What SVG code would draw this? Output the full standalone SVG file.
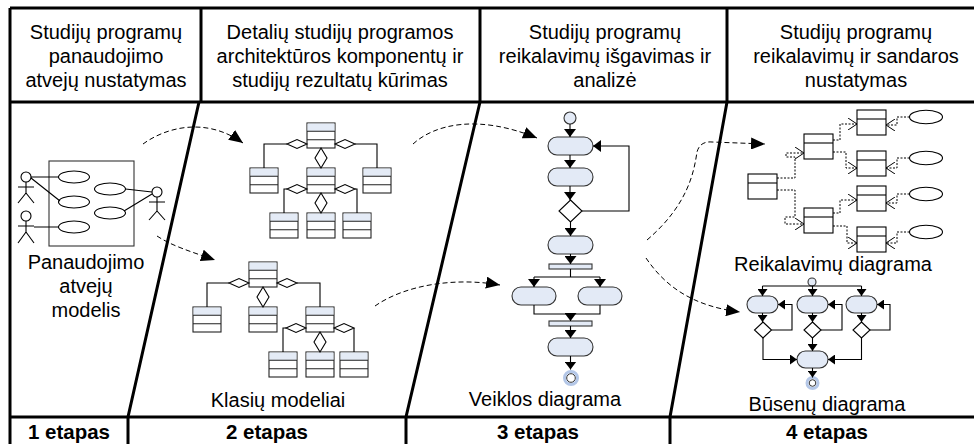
<svg xmlns="http://www.w3.org/2000/svg" xmlns:xlink="http://www.w3.org/1999/xlink" width="974" height="444" viewBox="0 0 974 444">
<style>
.frame{stroke:#000;stroke-width:3;fill:none}
.t{font-family:"Liberation Sans",Arial,sans-serif;font-size:20px;text-anchor:middle;fill:#000}
.b{font-weight:bold;font-size:20.5px}
.ln{stroke:#000;stroke-width:1.1;fill:none}
.dl{stroke:#000;stroke-width:1;fill:none;stroke-dasharray:5 3}
.dr{stroke:#000;stroke-width:1;fill:none;stroke-dasharray:2 1.5}
.act{fill:#e3eaf6;stroke:#333;stroke-width:1.1}
.dia{fill:#fff;stroke:#000;stroke-width:1.1}
.wb{fill:#fff;stroke:#000;stroke-width:1.1}
.ring{fill:#fff;stroke:#b4c7e7;stroke-width:3}
</style>
<defs>
<marker id="ah" viewBox="0 0 8 12" refX="8" refY="6" markerWidth="8" markerHeight="12" markerUnits="userSpaceOnUse" orient="auto"><path d="M0,0L8,6L0,12z" fill="#000"/></marker>
<marker id="ahs" viewBox="0 0 7 10" refX="7" refY="5" markerWidth="7" markerHeight="10" markerUnits="userSpaceOnUse" orient="auto"><path d="M0,0L7,5L0,10z" fill="#000"/></marker>
<marker id="big" viewBox="0 0 14 12" refX="14" refY="6" markerWidth="14" markerHeight="12" markerUnits="userSpaceOnUse" orient="auto"><path d="M0,0L14,6L0,12z" fill="#000"/></marker>
<marker id="open" viewBox="0 0 9 12" refX="9" refY="6" markerWidth="9" markerHeight="12" markerUnits="userSpaceOnUse" orient="auto"><path d="M0,0L9,6L0,12" fill="none" stroke="#000" stroke-width="1"/></marker>
<g id="cls"><rect x="0" y="0" width="28" height="25" fill="#fff" stroke="#222" stroke-width="1.1"/><rect x="0.5" y="0.5" width="27" height="7.8" fill="#e4ebf6"/><path d="M0,8.3H28M0,16.7H28" stroke="#222" stroke-width="1.1"/></g>
<g id="req"><rect x="0" y="0" width="29" height="25" fill="#fff" stroke="#000" stroke-width="1.1"/><path d="M0,9H29" stroke="#000" stroke-width="1.1"/></g>
<path id="hd" d="M0,0L10,-4.5L20,0L10,4.5z"/>
<path id="vd" d="M0,0L6,10L0,20L-6,10z"/>
</defs>

<g id="frame">
<path class="frame" d="M10,8H974M10,102H974M10,417H974M10,8V444M201,8V102M480,8V102M727,8V102"/>
<path class="frame" d="M199,102L128,417V444M480,102L406,417V444M727,102L670,417V444"/>
</g>

<g id="headers">
<text class="t" x="106" y="39">Studijų programų</text>
<text class="t" x="106" y="63">panaudojimo</text>
<text class="t" x="106" y="87">atvejų nustatymas</text>
<text class="t" x="340" y="39">Detalių studijų programos</text>
<text class="t" x="340" y="63">architektūros komponentų ir</text>
<text class="t" x="340" y="87">studijų rezultatų kūrimas</text>
<text class="t" x="605" y="39">Studijų programų</text>
<text class="t" x="605" y="63">reikalavimų išgavimas ir</text>
<text class="t" x="605" y="87">analizė</text>
<text class="t" x="856" y="39">Studijų programų</text>
<text class="t" x="856" y="63">reikalavimų ir sandaros</text>
<text class="t" x="856" y="87">nustatymas</text>
</g>

<g id="footers">
<text class="t b" x="69" y="439">1 etapas</text>
<text class="t b" x="267" y="439">2 etapas</text>
<text class="t b" x="538" y="439">3 etapas</text>
<text class="t b" x="827" y="439">4 etapas</text>
</g>

<g id="usecase">
<rect x="49" y="161" width="85" height="85" fill="#fff" stroke="#333" stroke-width="1.1"/>
<ellipse class="wb" cx="74" cy="177" rx="15.5" ry="6"/>
<ellipse class="wb" cx="74" cy="202" rx="15.5" ry="6"/>
<ellipse class="wb" cx="74" cy="227" rx="15.5" ry="6"/>
<ellipse class="wb" cx="110" cy="189" rx="15.5" ry="6"/>
<ellipse class="wb" cx="110" cy="213" rx="15.5" ry="6"/>
<circle class="wb" cx="26" cy="177" r="5"/>
<path class="ln" d="M26,182V193M18,187H34M26,193L18,203M26,193L34,203"/>
<circle class="wb" cx="26" cy="216" r="5"/>
<path class="ln" d="M26,221V232M18,226H34M26,232L18,243M26,232L34,243"/>
<circle class="wb" cx="157" cy="192" r="5"/>
<path class="ln" d="M157,197V211M149,202H165M157,211L149,220M157,211L165,220"/>
<path class="ln" d="M31,177L58.5,177M31,178L60,201M34,227L58.5,227M152,192L125.5,189M152,194L124,211"/>
<text class="t" x="86" y="269">Panaudojimo</text>
<text class="t" x="86" y="293">atvejų</text>
<text class="t" x="86" y="317">modelis</text>
</g>

<g id="classA">
<use href="#cls" x="307" y="123"/>
<use href="#cls" x="250" y="168"/>
<use href="#cls" x="307" y="168"/>
<use href="#cls" x="363" y="168"/>
<use href="#cls" x="270" y="213"/>
<use href="#cls" x="307" y="213"/>
<use href="#cls" x="343" y="213"/>
<path class="ln" d="M287,144H264V168M355,144H377V168M287,189H284V213M355,189H357V213"/>
<use href="#hd" x="287" y="144" class="dia"/>
<use href="#hd" x="335" y="144" class="dia"/>
<use href="#vd" x="321" y="148" class="dia"/>
<use href="#hd" x="287" y="189" class="dia"/>
<use href="#hd" x="335" y="189" class="dia"/>
<use href="#vd" x="321" y="193" class="dia"/>
</g>

<g id="classB">
<use href="#cls" x="249" y="262"/>
<use href="#cls" x="193" y="307"/>
<use href="#cls" x="249" y="307"/>
<use href="#cls" x="306" y="307"/>
<use href="#cls" x="269" y="352"/>
<use href="#cls" x="306" y="352"/>
<use href="#cls" x="340" y="352"/>
<path class="ln" d="M229,283H207V307M297,283H320V307M286,328H283V352M354,328V352"/>
<use href="#hd" x="229" y="283" class="dia"/>
<use href="#hd" x="277" y="283" class="dia"/>
<use href="#vd" x="263" y="287" class="dia"/>
<use href="#hd" x="286" y="328" class="dia"/>
<use href="#hd" x="334" y="328" class="dia"/>
<use href="#vd" x="320" y="332" class="dia"/>
<text class="t" x="278" y="407">Klasių modeliai</text>
</g>

<g id="activity">
<circle class="act" cx="570" cy="118" r="6"/>
<rect class="act" x="548" y="137" width="45" height="18" rx="9"/>
<rect class="act" x="548" y="168" width="45" height="18" rx="9"/>
<path class="dia" d="M570.5,200L582,211L570.5,222L559,211z"/>
<rect class="act" x="548" y="236" width="45" height="18" rx="9"/>
<rect class="act" x="549" y="264" width="43" height="5"/>
<rect class="act" x="512" y="287" width="44" height="18" rx="9"/>
<rect class="act" x="578" y="287" width="44" height="18" rx="9"/>
<rect class="act" x="549" y="321" width="43" height="5"/>
<rect class="act" x="548" y="338" width="45" height="18" rx="9"/>
<circle class="ring" cx="571" cy="378" r="6.5"/>
<circle cx="571" cy="378" r="4.3" fill="#fff" stroke="#333" stroke-width="1"/>
<text class="t" x="545" y="406">Veiklos diagrama</text>
</g>

<g id="requirements">
<use href="#req" x="748" y="174"/>
<use href="#req" x="804" y="134"/>
<use href="#req" x="804" y="208"/>
<use href="#req" x="857" y="110"/>
<use href="#req" x="857" y="151"/>
<use href="#req" x="857" y="186"/>
<use href="#req" x="857" y="227"/>
<ellipse class="wb" cx="926" cy="117" rx="16.5" ry="6.7"/>
<ellipse class="wb" cx="926" cy="158" rx="16.5" ry="6.7"/>
<ellipse class="wb" cx="926" cy="194" rx="16.5" ry="6.7"/>
<ellipse class="wb" cx="926" cy="232" rx="16.5" ry="6.7"/>
<text class="t" x="833" y="271">Reikalavimų diagrama</text>
</g>

<g id="states">
<circle class="act" cx="812" cy="282" r="4"/>
<rect class="act" x="747" y="296" width="31" height="17" rx="8.5"/>
<rect class="act" x="797" y="296" width="31" height="17" rx="8.5"/>
<rect class="act" x="846" y="296" width="31" height="17" rx="8.5"/>
<path class="dia" d="M763,322L771.5,330L763,338L754.5,330z"/>
<path class="dia" d="M812.5,322L821,330L812.5,338L804,330z"/>
<path class="dia" d="M861.5,322L870,330L861.5,338L853,330z"/>
<rect class="act" x="797" y="351" width="31" height="17" rx="8.5"/>
<circle class="ring" cx="812.5" cy="383" r="5.5"/>
<circle cx="812.5" cy="383" r="3.3" fill="#fff" stroke="#333" stroke-width="1"/>
<text class="t" x="827" y="411">Būsenų diagrama</text>
</g>

<g id="connectors">
<path class="dl" d="M143,144C165,128 205,116 243,143" marker-end="url(#big)"/>
<path class="dl" d="M157,236C172,246 192,252 215,260" marker-end="url(#big)"/>
<path class="dl" d="M413,144C435,124 478,114 537,138" marker-end="url(#big)"/>
<path class="dl" d="M375,306C405,285 455,277 500,285" marker-end="url(#big)"/>
<path class="dl" d="M647,240C688,205 694,172 697,152Q700,141 712,142L765,144" marker-end="url(#big)"/>
<path class="dl" d="M646,258C665,286 692,306 740,312" marker-end="url(#big)"/>

<path class="ln" d="M570,124V137" marker-end="url(#ah)"/>
<path class="ln" d="M570,155V168" marker-end="url(#ah)"/>
<path class="ln" d="M570,186V200" marker-end="url(#ah)"/>
<path class="ln" d="M582,211H629V146H593" marker-end="url(#ah)"/>
<path class="ln" d="M570.5,222V236" marker-end="url(#ah)"/>
<path class="ln" d="M570.5,254V264" marker-end="url(#ah)"/>
<path class="ln" d="M570.5,269V277M534,277H600"/>
<path class="ln" d="M534,277V287" marker-end="url(#ah)"/>
<path class="ln" d="M600,277V287" marker-end="url(#ah)"/>
<path class="ln" d="M534,305V314H600V305"/>
<path class="ln" d="M570.5,314V321" marker-end="url(#ah)"/>
<path class="ln" d="M570.5,326V338" marker-end="url(#ah)"/>
<path class="ln" d="M570.5,356V369.5" marker-end="url(#ah)"/>

<path class="dr" d="M777,178H795V157H786V153H804" marker-end="url(#open)"/>
<path class="dr" d="M777,190H795V217H785V224H804" marker-end="url(#open)"/>
<path class="dr" d="M833,140H840V124H857" marker-end="url(#open)"/>
<path class="dr" d="M833,152H846V168H857" marker-end="url(#open)"/>
<path class="dr" d="M833,213H840V200H857" marker-end="url(#open)"/>
<path class="dr" d="M833,226H847V243H857" marker-end="url(#open)"/>
<path class="dr" d="M909.5,117H897V125H886" marker-end="url(#open)"/>
<path class="dr" d="M909.5,158H897V168H886" marker-end="url(#open)"/>
<path class="dr" d="M909.5,194H897V203H886" marker-end="url(#open)"/>
<path class="dr" d="M909.5,232H897V243H886" marker-end="url(#open)"/>

<path class="ln" d="M762.5,286H861.5"/>
<path class="ln" d="M762.5,286V296" marker-end="url(#ahs)"/>
<path class="ln" d="M812.5,286V296" marker-end="url(#ahs)"/>
<path class="ln" d="M861.5,286V296" marker-end="url(#ahs)"/>
<path class="ln" d="M762.5,313V322" marker-end="url(#ahs)"/>
<path class="ln" d="M812.5,313V322" marker-end="url(#ahs)"/>
<path class="ln" d="M861.5,313V322" marker-end="url(#ahs)"/>
<path class="ln" d="M771.5,330H792V304.5H778" marker-end="url(#ahs)"/>
<path class="ln" d="M821,330H842V304.5H828" marker-end="url(#ahs)"/>
<path class="ln" d="M870,330H890V304.5H877" marker-end="url(#ahs)"/>
<path class="ln" d="M812.5,338V351" marker-end="url(#ahs)"/>
<path class="ln" d="M763,338V359.5H797" marker-end="url(#ahs)"/>
<path class="ln" d="M861.5,338V359.5H828" marker-end="url(#ahs)"/>
<path class="ln" d="M812.5,368V377.5" marker-end="url(#ahs)"/>
</g>
</svg>
